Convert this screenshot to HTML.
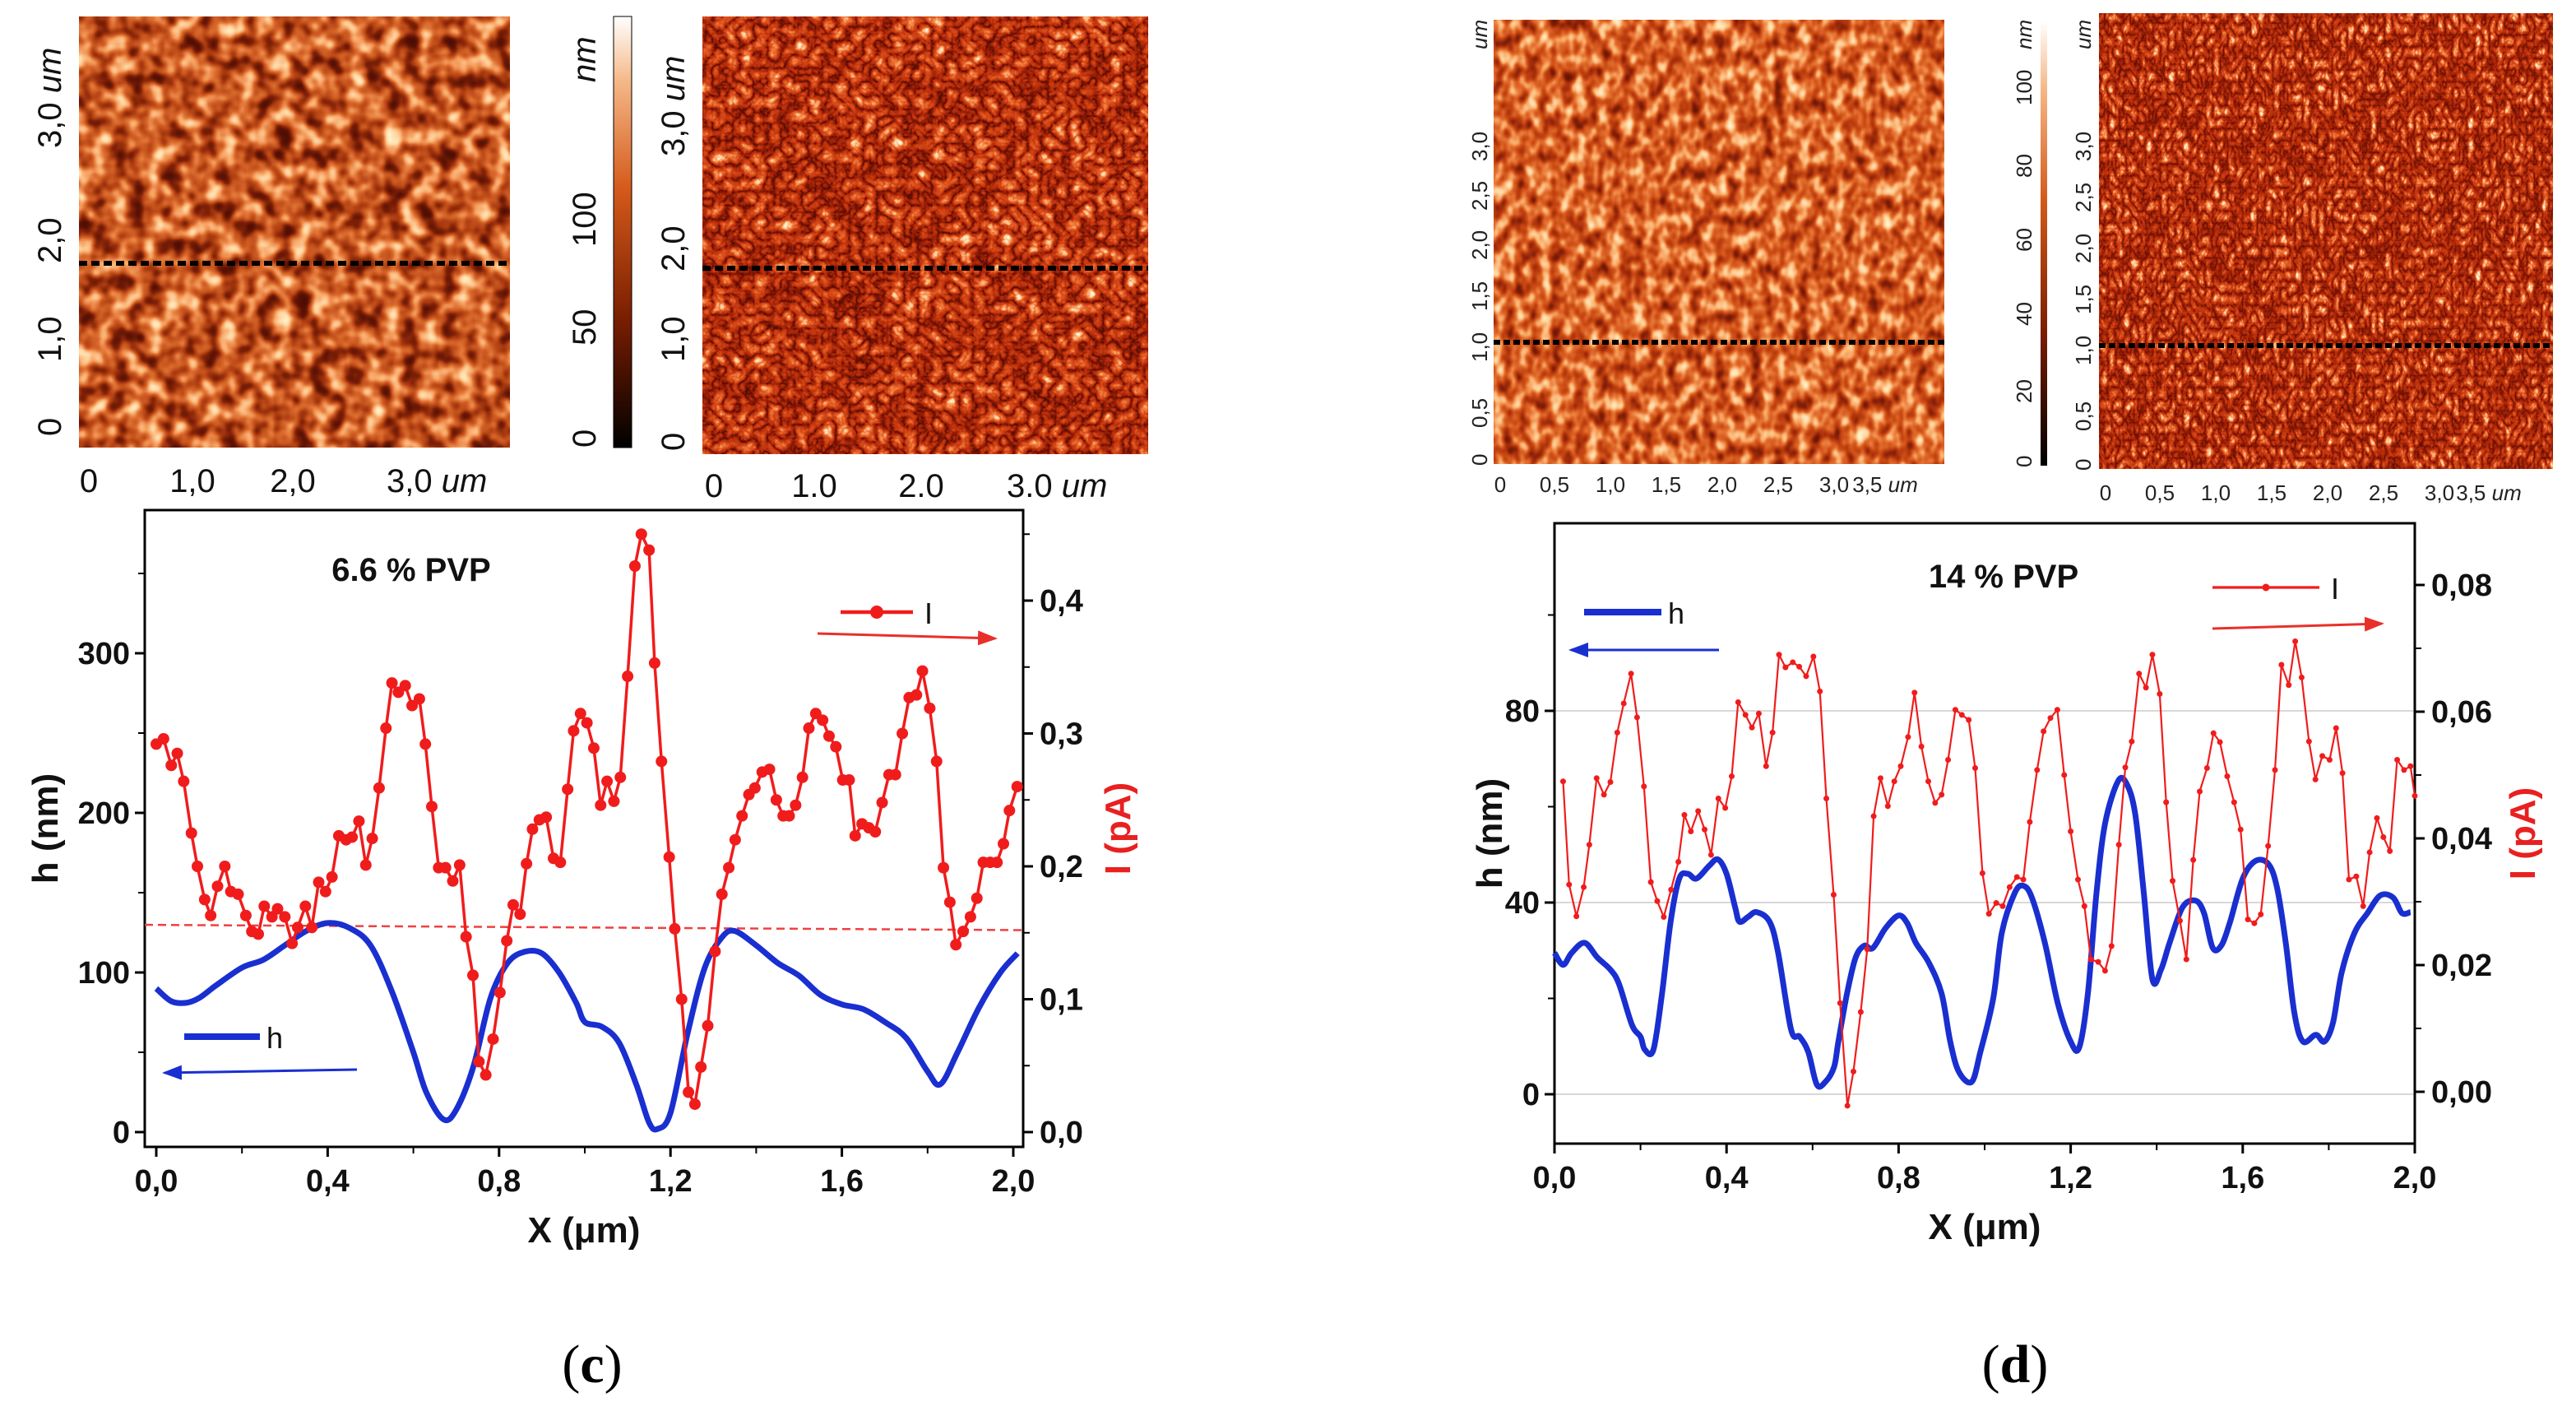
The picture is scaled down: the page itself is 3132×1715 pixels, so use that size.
<!DOCTYPE html>
<html><head><meta charset="utf-8"><style>
html,body{margin:0;padding:0;background:#fff;}
svg{display:block;font-family:"Liberation Sans",sans-serif;}
filter{color-interpolation-filters:sRGB;}
</style></head><body>
<svg id="fig" width="3132" height="1715" viewBox="0 0 3132 1715" xmlns="http://www.w3.org/2000/svg">
<defs>
<filter id="afm1" x="0" y="0" width="100%" height="100%" color-interpolation-filters="sRGB">
<feTurbulence type="fractalNoise" baseFrequency="0.045" numOctaves="2" seed="3"/>
<feColorMatrix type="matrix" values="1 0 0 0 0 1 0 0 0 0 1 0 0 0 0 0 0 0 0 1"/>
<feComponentTransfer><feFuncR type="table" tableValues="0.3 0.3 0.35 0.5 0.72 0.86 0.97 1 1 1"/><feFuncG type="table" tableValues="0.05 0.05 0.07 0.13 0.27 0.42 0.65 0.85 0.95 1"/><feFuncB type="table" tableValues="0.02 0.02 0.02 0.03 0.08 0.18 0.4 0.65 0.8 0.9"/><feFuncA type="table" tableValues="1 1"/></feComponentTransfer>
</filter>
<filter id="afm2" x="0" y="0" width="100%" height="100%" color-interpolation-filters="sRGB">
<feTurbulence type="turbulence" baseFrequency="0.06" numOctaves="3" seed="7"/>
<feColorMatrix type="matrix" values="1 0 0 0 0 1 0 0 0 0 1 0 0 0 0 0 0 0 0 1"/>
<feComponentTransfer><feFuncR type="table" tableValues="0.25 0.55 0.75 0.85 0.95 1 1 1"/><feFuncG type="table" tableValues="0.03 0.1 0.2 0.3 0.5 0.8 1 1"/><feFuncB type="table" tableValues="0.01 0.02 0.05 0.1 0.25 0.6 0.9 1"/><feFuncA type="table" tableValues="1 1"/></feComponentTransfer>
</filter>
<filter id="afm3" x="0" y="0" width="100%" height="100%" color-interpolation-filters="sRGB">
<feTurbulence type="fractalNoise" baseFrequency="0.07 0.05" numOctaves="2" seed="11"/>
<feColorMatrix type="matrix" values="1 0 0 0 0 1 0 0 0 0 1 0 0 0 0 0 0 0 0 1"/>
<feComponentTransfer><feFuncR type="table" tableValues="0.35 0.4 0.5 0.68 0.8 0.9 0.98 1 1 1"/><feFuncG type="table" tableValues="0.06 0.08 0.12 0.2 0.3 0.45 0.68 0.85 0.95 1"/><feFuncB type="table" tableValues="0.02 0.02 0.03 0.05 0.08 0.2 0.42 0.65 0.8 0.9"/><feFuncA type="table" tableValues="1 1"/></feComponentTransfer>
</filter>
<filter id="afm4" x="0" y="0" width="100%" height="100%" color-interpolation-filters="sRGB">
<feTurbulence type="turbulence" baseFrequency="0.11 0.07" numOctaves="3" seed="5"/>
<feColorMatrix type="matrix" values="1 0 0 0 0 1 0 0 0 0 1 0 0 0 0 0 0 0 0 1"/>
<feComponentTransfer><feFuncR type="table" tableValues="0.3 0.55 0.72 0.82 0.95 1 1 1"/><feFuncG type="table" tableValues="0.04 0.1 0.18 0.26 0.5 0.8 1 1"/><feFuncB type="table" tableValues="0.01 0.02 0.04 0.08 0.25 0.6 0.9 1"/><feFuncA type="table" tableValues="1 1"/></feComponentTransfer>
</filter>
<linearGradient id="cbar" x1="0" y1="1" x2="0" y2="0"><stop offset="0" stop-color="#000"/><stop offset="0.3" stop-color="#7a1e00"/><stop offset="0.6" stop-color="#d45a1a"/><stop offset="0.85" stop-color="#f5b888"/><stop offset="1" stop-color="#fff"/></linearGradient>
<marker id="arR" markerWidth="8" markerHeight="8" refX="7" refY="4" orient="auto" markerUnits="strokeWidth"><path d="M0,1 L8,4 L0,7 z" fill="#e8302a"/></marker>
<marker id="arB" markerWidth="8" markerHeight="8" refX="7" refY="4" orient="auto" markerUnits="strokeWidth"><path d="M0,1 L8,4 L0,7 z" fill="#1a2fd0"/></marker>
</defs>

<g>
<rect x="96" y="20" width="524" height="524" filter="url(#afm1)"/>
<line x1="96" x2="620" y1="320" y2="320" stroke="#000" stroke-width="6" stroke-dasharray="10,5"/>
</g>
<g><rect x="746" y="20" width="22" height="524" fill="url(#cbar)" stroke="#000" stroke-width="1"/></g>
<g>
<rect x="854" y="20" width="542" height="532" filter="url(#afm2)"/>
<line x1="854" x2="1396" y1="326" y2="326" stroke="#000" stroke-width="6" stroke-dasharray="10,5"/>
</g>
<g font-size="40" fill="#111">
<text x="108" y="598" text-anchor="middle">0</text><text x="234" y="598" text-anchor="middle">1,0</text><text x="356" y="598" text-anchor="middle">2,0</text><text x="470" y="598">3,0 <tspan font-style="italic">um</tspan></text>
<text transform="translate(74,530) rotate(-90)">0</text><text transform="translate(74,440) rotate(-90)">1,0</text><text transform="translate(74,320) rotate(-90)">2,0</text><text transform="translate(74,180) rotate(-90)">3,0 <tspan font-style="italic">um</tspan></text>
<text transform="translate(724,544) rotate(-90)">0</text><text transform="translate(724,420) rotate(-90)">50</text><text transform="translate(724,300) rotate(-90)">100</text><text transform="translate(724,100) rotate(-90)" font-style="italic">nm</text>
<text x="868" y="604" text-anchor="middle">0</text><text x="990" y="604" text-anchor="middle">1.0</text><text x="1120" y="604" text-anchor="middle">2.0</text><text x="1224" y="604">3.0 <tspan font-style="italic">um</tspan></text>
<text transform="translate(832,548) rotate(-90)">0</text><text transform="translate(832,440) rotate(-90)">1,0</text><text transform="translate(832,330) rotate(-90)">2,0</text><text transform="translate(832,190) rotate(-90)">3,0 <tspan font-style="italic">um</tspan></text>
</g>

<g>
<rect x="1816" y="24" width="548" height="540" filter="url(#afm3)"/>
<line x1="1816" x2="2364" y1="416" y2="416" stroke="#000" stroke-width="6" stroke-dasharray="8,4"/>
</g>
<g><rect x="2481" y="26" width="8" height="540" fill="url(#cbar)"/></g>
<g>
<rect x="2552" y="16" width="552" height="554" filter="url(#afm4)"/>
<line x1="2552" x2="3104" y1="420" y2="420" stroke="#000" stroke-width="6" stroke-dasharray="8,4"/>
</g>
<g font-size="26" fill="#222">
<text x="1824" y="598" text-anchor="middle">0</text><text x="1890" y="598" text-anchor="middle">0,5</text><text x="1958" y="598" text-anchor="middle">1,0</text><text x="2026" y="598" text-anchor="middle">1,5</text><text x="2094" y="598" text-anchor="middle">2,0</text><text x="2162" y="598" text-anchor="middle">2,5</text><text x="2230" y="598" text-anchor="middle">3,0</text><text x="2292" y="598" text-anchor="middle">3,5 <tspan font-style="italic">um</tspan></text>
<g><text transform="translate(1808,566) rotate(-90)">0</text><text transform="translate(1808,520) rotate(-90)">0,5</text><text transform="translate(1808,440) rotate(-90)">1,0</text><text transform="translate(1808,378) rotate(-90)">1,5</text><text transform="translate(1808,316) rotate(-90)">2,0</text><text transform="translate(1808,256) rotate(-90)">2,5</text><text transform="translate(1808,196) rotate(-90)">3,0</text><text transform="translate(1808,60) rotate(-90)" font-style="italic">um</text></g>
<g><text transform="translate(2470,568) rotate(-90)">0</text><text transform="translate(2470,490) rotate(-90)">20</text><text transform="translate(2470,396) rotate(-90)">40</text><text transform="translate(2470,306) rotate(-90)">60</text><text transform="translate(2470,216) rotate(-90)">80</text><text transform="translate(2470,128) rotate(-90)">100</text><text transform="translate(2470,60) rotate(-90)" font-style="italic">nm</text></g>
<text x="2560" y="608" text-anchor="middle">0</text><text x="2626" y="608" text-anchor="middle">0,5</text><text x="2694" y="608" text-anchor="middle">1,0</text><text x="2762" y="608" text-anchor="middle">1,5</text><text x="2830" y="608" text-anchor="middle">2,0</text><text x="2898" y="608" text-anchor="middle">2,5</text><text x="2966" y="608" text-anchor="middle">3,0</text><text x="3026" y="608" text-anchor="middle">3,5 <tspan font-style="italic">um</tspan></text>
<g><text transform="translate(2542,572) rotate(-90)">0</text><text transform="translate(2542,524) rotate(-90)">0,5</text><text transform="translate(2542,444) rotate(-90)">1,0</text><text transform="translate(2542,382) rotate(-90)">1,5</text><text transform="translate(2542,320) rotate(-90)">2,0</text><text transform="translate(2542,258) rotate(-90)">2,5</text><text transform="translate(2542,196) rotate(-90)">3,0</text><text transform="translate(2542,60) rotate(-90)" font-style="italic">um</text></g>
</g>

<text x="720" y="1680" font-family="Liberation Serif,serif" font-size="66" text-anchor="middle">(<tspan font-weight="bold">c</tspan>)</text>
<text x="2450" y="1680" font-family="Liberation Serif,serif" font-size="66" text-anchor="middle">(<tspan font-weight="bold">d</tspan>)</text>

<g id="chartC"></g>
<g id="chartD"></g>
</svg>
<script>
// ---- Chart c data ----
const cHx=[0,0.035,0.07,0.1,0.14,0.2,0.25,0.3,0.35,0.4,0.45,0.5,0.55,0.6,0.63,0.67,0.7,0.74,0.78,0.82,0.86,0.9,0.94,0.98,1.0,1.04,1.08,1.12,1.15,1.17,1.2,1.24,1.28,1.32,1.35,1.4,1.45,1.5,1.55,1.6,1.65,1.7,1.75,1.8,1.83,1.87,1.92,1.97,2.01];
const cH=[90,82,81,84,92,103,108,117,126,131,128,117,88,50,25,8,14,41,84,106,113,112,100,81,69,66,56,30,6,2,12,62,103,122,126,117,106,98,86,80,77,69,59,38,30,50,78,100,112];
const cIx=[0,0.017,0.035,0.049,0.064,0.082,0.096,0.113,0.127,0.143,0.16,0.174,0.191,0.209,0.223,0.238,0.252,0.27,0.283,0.3,0.317,0.33,0.348,0.363,0.379,0.395,0.41,0.426,0.443,0.457,0.473,0.489,0.504,0.52,0.536,0.55,0.565,0.581,0.597,0.614,0.628,0.643,0.659,0.675,0.692,0.708,0.723,0.739,0.753,0.769,0.786,0.802,0.818,0.833,0.849,0.864,0.878,0.894,0.91,0.927,0.943,0.96,0.974,0.99,1.005,1.021,1.037,1.052,1.068,1.083,1.1,1.117,1.132,1.15,1.163,1.179,1.197,1.21,1.226,1.242,1.257,1.271,1.287,1.304,1.32,1.336,1.351,1.367,1.383,1.397,1.414,1.431,1.447,1.463,1.477,1.492,1.508,1.523,1.539,1.555,1.57,1.586,1.602,1.617,1.631,1.647,1.663,1.678,1.694,1.71,1.725,1.741,1.757,1.774,1.788,1.805,1.821,1.837,1.852,1.866,1.883,1.9,1.915,1.93,1.946,1.962,1.977,1.991,2.009];
const cI=[0.292,0.296,0.276,0.285,0.264,0.225,0.2,0.175,0.163,0.185,0.2,0.181,0.179,0.163,0.151,0.149,0.17,0.162,0.168,0.162,0.142,0.154,0.17,0.154,0.188,0.181,0.192,0.223,0.22,0.222,0.234,0.201,0.221,0.259,0.304,0.338,0.331,0.336,0.321,0.326,0.292,0.245,0.199,0.199,0.189,0.201,0.147,0.118,0.053,0.043,0.07,0.105,0.144,0.171,0.164,0.202,0.228,0.235,0.237,0.206,0.203,0.258,0.302,0.315,0.308,0.289,0.246,0.264,0.249,0.267,0.343,0.426,0.45,0.438,0.353,0.279,0.207,0.153,0.1,0.03,0.021,0.049,0.08,0.136,0.179,0.199,0.22,0.238,0.254,0.259,0.271,0.273,0.25,0.238,0.238,0.246,0.267,0.304,0.315,0.31,0.298,0.29,0.265,0.265,0.223,0.232,0.229,0.226,0.248,0.269,0.269,0.3,0.327,0.329,0.347,0.319,0.279,0.199,0.173,0.141,0.151,0.162,0.176,0.203,0.203,0.203,0.217,0.242,0.26];
const cRef=[0.156,0.152];
const cXTicks=["0,0","0,4","0,8","1,2","1,6","2,0"];
const cHTicks=["0","100","200","300"];
const cITicks=["0,0","0,1","0,2","0,3","0,4"];
// ---- Chart d data ----
const dHx=[0,0.02,0.04,0.07,0.1,0.13,0.15,0.18,0.2,0.21,0.23,0.25,0.27,0.29,0.31,0.33,0.36,0.38,0.4,0.42,0.43,0.45,0.47,0.5,0.52,0.55,0.57,0.59,0.61,0.63,0.65,0.66,0.68,0.7,0.72,0.74,0.77,0.8,0.82,0.84,0.87,0.9,0.92,0.94,0.97,0.99,1.02,1.04,1.07,1.09,1.11,1.14,1.17,1.2,1.22,1.24,1.26,1.28,1.31,1.33,1.35,1.37,1.39,1.41,1.43,1.46,1.49,1.51,1.53,1.55,1.57,1.6,1.63,1.66,1.68,1.7,1.72,1.74,1.77,1.79,1.81,1.83,1.86,1.89,1.92,1.95,1.97,1.99];
const dH=[29.5,27,29.5,31.6,28.5,26,23,14.5,12,9.3,9.3,21,36,45,46,45,47.7,49,46,39,36,37,38,36,29.5,13.5,12,8.8,2,2.6,5.7,11,21,28.5,31,30.5,34.7,37.3,35.7,31.6,27.5,21,11,4.7,2.6,8.8,20,33.7,42,43.5,41,31.6,19,11,9.8,21,42,56.5,65.3,64.8,58.5,42,24,26,31.6,39,40.4,37.8,30.6,31,35.8,45,48.7,48,43,31.6,17,11,12.4,11,15,25.4,33.7,37.8,41.5,41,37.8,38];
const dIx=[0.02,0.034,0.051,0.068,0.081,0.098,0.115,0.13,0.146,0.161,0.178,0.192,0.208,0.224,0.239,0.254,0.271,0.288,0.302,0.317,0.334,0.349,0.364,0.381,0.397,0.412,0.427,0.444,0.459,0.475,0.492,0.507,0.522,0.537,0.554,0.569,0.585,0.602,0.617,0.632,0.649,0.664,0.681,0.695,0.712,0.727,0.742,0.758,0.775,0.79,0.805,0.822,0.837,0.853,0.869,0.885,0.9,0.915,0.932,0.947,0.963,0.978,0.995,1.01,1.027,1.042,1.058,1.075,1.09,1.105,1.122,1.137,1.153,1.169,1.185,1.2,1.217,1.232,1.247,1.264,1.28,1.295,1.312,1.327,1.342,1.359,1.375,1.39,1.407,1.422,1.437,1.454,1.469,1.485,1.5,1.517,1.532,1.547,1.564,1.58,1.595,1.612,1.627,1.642,1.659,1.675,1.69,1.707,1.722,1.737,1.754,1.769,1.785,1.802,1.817,1.832,1.847,1.864,1.88,1.895,1.912,1.927,1.942,1.959,1.975,1.99,2.0];
const dI=[0.049,0.0327,0.0277,0.0323,0.039,0.0495,0.0469,0.0489,0.0567,0.0613,0.066,0.0591,0.0482,0.0331,0.0301,0.0276,0.0319,0.0363,0.0437,0.0411,0.0443,0.0414,0.0374,0.0463,0.0448,0.0498,0.0615,0.0595,0.0575,0.0597,0.0514,0.0567,0.069,0.067,0.0678,0.0671,0.0656,0.0687,0.0632,0.0463,0.0311,0.014,-0.0022,0.0032,0.0126,0.0225,0.0435,0.0495,0.0451,0.049,0.0514,0.056,0.063,0.0545,0.049,0.0456,0.0469,0.0524,0.0603,0.0595,0.0587,0.0511,0.0345,0.0281,0.0298,0.0293,0.0323,0.0339,0.0335,0.0426,0.0508,0.0569,0.059,0.0603,0.05,0.0411,0.0335,0.0293,0.0209,0.0205,0.0191,0.023,0.039,0.0512,0.0553,0.066,0.0638,0.069,0.0628,0.0457,0.0333,0.027,0.0209,0.0366,0.0474,0.0511,0.0566,0.0552,0.0498,0.0457,0.0414,0.0272,0.0266,0.028,0.0388,0.0508,0.0674,0.0642,0.0711,0.0654,0.0553,0.0493,0.053,0.0524,0.0574,0.0503,0.0335,0.034,0.0293,0.0378,0.0432,0.0402,0.038,0.0524,0.0508,0.0514,0.0467];
const dXTicks=["0,0","0,4","0,8","1,2","1,6","2,0"];
const dHTicks=["0","40","80"];
const dITicks=["0,00","0,02","0,04","0,06","0,08"];

const NS="http://www.w3.org/2000/svg";
function mk(parent,tag,attrs,txt){const e=document.createElementNS(NS,tag);for(const k in attrs)e.setAttribute(k,attrs[k]);if(txt!==undefined)e.textContent=txt;parent.appendChild(e);return e;}
function smooth(pts){let d="M"+pts[0][0]+","+pts[0][1];for(let i=0;i<pts.length-1;i++){const p0=pts[i-1]||pts[i],p1=pts[i],p2=pts[i+1],p3=pts[i+2]||p2;const c1x=p1[0]+(p2[0]-p0[0])/6,c1y=p1[1]+(p2[1]-p0[1])/6,c2x=p2[0]-(p3[0]-p1[0])/6,c2y=p2[1]-(p3[1]-p1[1])/6;d+=` C${c1x},${c1y} ${c2x},${c2y} ${p2[0]},${p2[1]}`;}return d;}

function drawChart(g,cfg){
  const X=v=>cfg.x0+(v-cfg.xmin)/(cfg.xmax-cfg.xmin)*(cfg.x1-cfg.x0);
  const YH=v=>cfg.hZero-v*cfg.hScale;
  const YI=v=>cfg.iZero-v*cfg.iScale;
  const b=cfg.box;
  if(cfg.grid){cfg.gridVals.forEach(v=>{const l=mk(g,'line',{x1:b[0],x2:b[2],y1:YH(v),y2:YH(v),stroke:'#d8d8d8','stroke-width':2});});}
  const fr=mk(g,'rect',{x:b[0],y:b[1],width:b[2]-b[0],height:b[3]-b[1],fill:'none',stroke:'#000','stroke-width':3});
  
  for(let i=0;i<cfg.xTicks.length;i++){const v=i*cfg.xStep,x=X(v);
    mk(g,'line',{x1:x,x2:x,y1:b[3],y2:b[3]+12,stroke:'#000','stroke-width':3});
    const t=mk(g,'text',{x:x,y:cfg.xLabY,'text-anchor':'middle','font-size':38,'font-weight':'bold',fill:'#111'},cfg.xTicks[i]);
    
    if(i<cfg.xTicks.length-1){const xm=X(v+cfg.xStep/2);mk(g,'line',{x1:xm,x2:xm,y1:b[3],y2:b[3]+8,stroke:'#000','stroke-width':2});}}
  for(let i=0;i<cfg.hTicks.length;i++){const v=i*cfg.hStep,y=YH(v);
    mk(g,'line',{x1:b[0]-12,x2:b[0],y1:y,y2:y,stroke:'#000','stroke-width':3});
    const t=mk(g,'text',{x:b[0]-18,y:y+13,'text-anchor':'end','font-size':38,'font-weight':'bold',fill:'#111'},cfg.hTicks[i]);
    
    const ym=YH(v+cfg.hStep/2);if(ym>b[1])mk(g,'line',{x1:b[0]-8,x2:b[0],y1:ym,y2:ym,stroke:'#000','stroke-width':2});}
  for(let i=0;i<cfg.iTicks.length;i++){const v=i*cfg.iStep,y=YI(v);
    mk(g,'line',{x1:b[2],x2:b[2]+12,y1:y,y2:y,stroke:'#000','stroke-width':3});
    const t=mk(g,'text',{x:b[2]+20,y:y+13,'font-size':38,'font-weight':'bold',fill:'#111'},cfg.iTicks[i]);
    
    const ym=YI(v+cfg.iStep/2);if(ym>b[1])mk(g,'line',{x1:b[2],x2:b[2]+8,y1:ym,y2:ym,stroke:'#000','stroke-width':2});}
  let t=mk(g,'text',{x:(b[0]+b[2])/2,y:cfg.xTitleY,'text-anchor':'middle','font-size':44,'font-weight':'bold',fill:'#111'},'X (μm)');
  
  t=mk(g,'text',{transform:`translate(${cfg.hTitleX},${(b[1]+b[3])/2}) rotate(-90)`,'text-anchor':'middle','font-size':44,'font-weight':'bold',fill:'#111'},'h (nm)');
  
  t=mk(g,'text',{transform:`translate(${cfg.iTitleX},${(b[1]+b[3])/2}) rotate(-90)`,'text-anchor':'middle','font-size':44,'font-weight':'bold',fill:'#e82020'},'I (pA)');
  
  t=mk(g,'text',{x:cfg.titleX,y:cfg.titleY,'text-anchor':'middle','font-size':40,'font-weight':'bold',fill:'#111'},cfg.title);
  
  if(cfg.ref){const l=mk(g,'line',{x1:b[0],x2:b[2],y1:YI(cfg.ref[0]),y2:YI(cfg.ref[1]),stroke:'#f04040','stroke-width':2.5,'stroke-dasharray':'10,6'});}
  const hp=mk(g,'path',{d:smooth(cfg.hx.map((v,i)=>[X(v),YH(cfg.h[i])])),fill:'none',stroke:'#1a2fd0','stroke-width':7,'stroke-linejoin':'round'});
  
  const ip=mk(g,'polyline',{points:cfg.ix.map((v,i)=>X(v)+','+YI(cfg.I[i])).join(' '),fill:'none',stroke:'#f01c1c','stroke-width':cfg.iw});
  
  cfg.ix.forEach((v,i)=>{const c=mk(g,'circle',{cx:X(v),cy:YI(cfg.I[i]),r:cfg.mr,fill:'#f01c1c'});});
  const L=cfg.leg;
  let e=mk(g,'line',{x1:L.hb[0],x2:L.hb[1],y1:L.hb[2],y2:L.hb[2],stroke:'#1a2fd0','stroke-width':8});
  e=mk(g,'text',{x:L.hb[1]+8,y:L.hb[2]+14,'font-size':36,fill:'#111'},'h');
  e=mk(g,'line',{x1:L.ha[1],x2:L.ha[0],y1:L.ha[2],y2:L.ha[3],stroke:'#1a2fd0','stroke-width':3,'marker-end':'url(#arB)'});
  e=mk(g,'line',{x1:L.ib[0],x2:L.ib[1],y1:L.ib[2],y2:L.ib[2],stroke:'#f01c1c','stroke-width':cfg.iw+1});
  mk(g,'circle',{cx:(L.ib[0]+L.ib[1])/2,cy:L.ib[2],r:cfg.mr+1,fill:'#f01c1c'});
  e=mk(g,'text',{x:L.ib[1]+14,y:L.ib[2]+14,'font-size':36,fill:'#111'},'I');
  e=mk(g,'line',{x1:L.ia[0],x2:L.ia[1],y1:L.ia[2],y2:L.ia[3],stroke:'#e8302a','stroke-width':3,'marker-end':'url(#arR)'});
}

drawChart(document.getElementById('chartC'),{box:[176,620,1244,1394],x0:190,x1:1232,xmin:0,xmax:2,hZero:1376,hScale:1.94,iZero:1376,iScale:1615,
  xTicks:cXTicks,xStep:0.4,hTicks:cHTicks,hStep:100,iTicks:cITicks,iStep:0.1,xLabY:1448,xTitleY:1510,hTitleX:70,iTitleX:1374,
  title:'6.6 % PVP',titleX:500,titleY:706,ref:cRef,hx:cHx,h:cH,ix:cIx,I:cI,iw:3.5,mr:7,
  leg:{hb:[224,316,1260],ha:[200,434,1300,1304],ib:[1022,1110,744],ia:[994,1210,770,776]}});
drawChart(document.getElementById('chartD'),{box:[1890,636,2936,1390],x0:1890,x1:2936,xmin:0,xmax:2,hZero:1330,hScale:5.825,iZero:1327,iScale:7700,
  xTicks:dXTicks,xStep:0.4,hTicks:dHTicks,hStep:40,iTicks:dITicks,iStep:0.02,xLabY:1444,xTitleY:1506,hTitleX:1826,iTitleX:3082,
  title:'14 % PVP',titleX:2436,titleY:714,grid:true,gridVals:[0,40,80],hx:dHx,h:dH,ix:dIx,I:dI,iw:2.2,mr:3.5,
  leg:{hb:[1926,2020,744],ha:[1910,2090,790,790],ib:[2690,2820,714],ia:[2690,2896,764,758]}});
</script>
</body></html>
